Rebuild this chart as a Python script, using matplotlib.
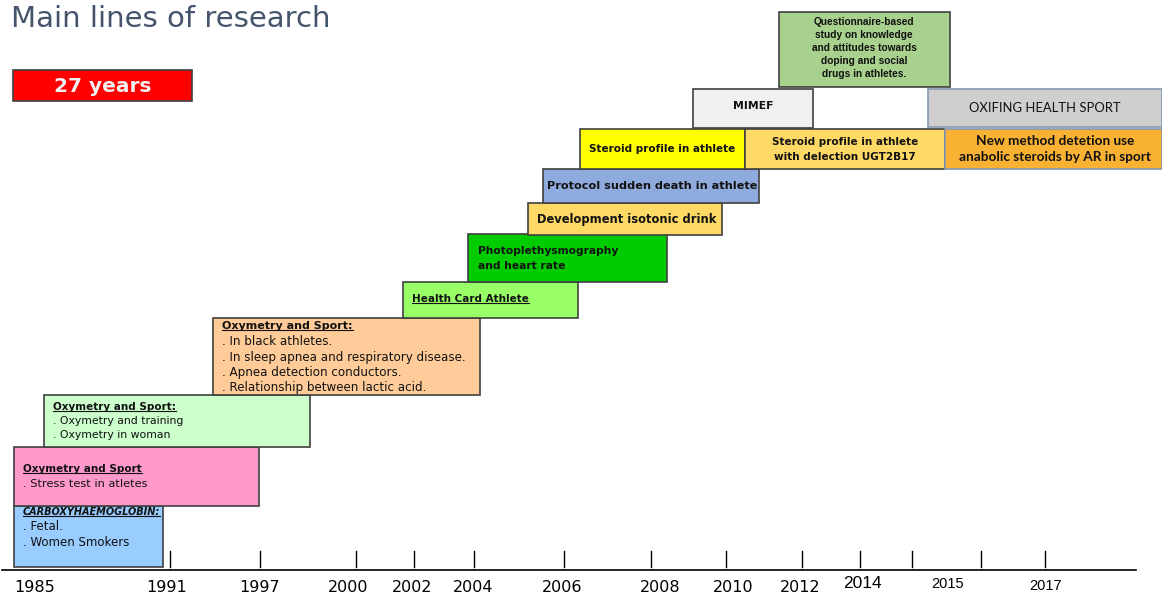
import matplotlib.pyplot as plt
from matplotlib.patches import Rectangle

title = 'Main lines of research'
span_label = '27 years'

# timeline labels and ticks
years = ['1985', '1991', '1997', '2000', '2002', '2004', '2006',
         '2008', '2010', '2012', '2014', '2015', '2017']

# research lines: (header, bullet lines)
research = [
    ('CARBOXYHAĘMOGLOBIN:', ['. Fetal.', '. Women Smokers']),
    ('Oxymetry and Sport', ['. Stress test in atletes']),
    ('Oxymetry and Sport:', ['. Oxymetry and training', '. Oxymetry in woman']),
    ('Oxymetry and Sport:', ['. In black athletes.',
                             '. In sleep apnea and respiratory disease.',
                             '. Apnea detection conductors.',
                             '. Relationship between lactic acid.']),
    ('Health Card Athlete', []),
    ('Photoplethysmography', ['and heart rate']),
    ('Development isotonic drink', []),
    ('Protocol sudden death in athlete', []),
    ('Steroid profile in athlete', []),
    ('Steroid profile in athlete', ['with delection UGT2B17']),
    ('New method detetion use', ['anabolic steroids by AR in sport']),
    ('MIMEF', []),
    ('Questionnaire-based', ['study on knowledge', 'and attitudes towards',
                             'doping and social', 'drugs in athletes.']),
    ('OXIFING HEALTH SPORT', []),
]

# ---- layout (pixel space of the slide) ----
W, H = 1162, 599
year_x = [35, 167, 260, 348, 412, 473, 562, 660, 733, 800, 862, 948, 1046]
year_y = [588] * 10 + [584, 584, 586]
tick_x = [170, 260, 356, 414, 474, 564, 651, 726, 802, 860, 912, 981, 1045]

# x0, x1, y0, y1, face, edge
boxes = [
    (14, 163, 506, 567, '#99CCFF', '#404040'),
    (14, 259, 447, 506, '#FF99CC', '#404040'),
    (44, 310, 395, 447, '#CCFFCC', '#404040'),
    (213, 480, 318, 395, '#FFCC99', '#404040'),
    (403, 578, 282, 318, '#99FF66', '#404040'),
    (468, 667, 234, 282, '#00CC00', '#404040'),
    (528, 722, 203, 235, '#FFD966', '#404040'),
    (543, 759, 169, 203, '#8FAADC', '#404040'),
    (580, 745, 129, 169, '#FFFF00', '#404040'),
    (745, 945, 129, 169, '#FFD966', '#404040'),
    (945, 1162, 129, 169, '#F8B133', '#8497B0'),
    (693, 813, 89, 128, '#F0F0F0', '#404040'),
    (779, 950, 12, 87, '#A9D18E', '#404040'),
    (928, 1162, 89, 127, '#D0CECE', '#8497B0'),
]
# text x, first line y, line step, align, header size, body size, header style, body style, family
text_fmt = [
    (23, 512, 15, 'left', 7.0, 8.5, 'bi_u', 'n', 'DejaVu Sans'),
    (23, 469, 15, 'left', 7.5, 8.2, 'b_u', 'n', 'DejaVu Sans'),
    (53, 407, 14, 'left', 7.5, 7.8, 'b_u', 'n', 'DejaVu Sans'),
    (222, 326, 15.5, 'left', 8.0, 8.6, 'b_u', 'n', 'DejaVu Sans'),
    (412, 299, 15, 'left', 7.5, 7.5, 'b_u', 'b', 'DejaVu Sans'),
    (478, 251, 15, 'left', 7.7, 7.7, 'b', 'b', 'DejaVu Sans'),
    (537, 220, 15, 'left', 8.3, 8.3, 'b', 'b', 'DejaVu Sans'),
    (547, 186, 15, 'left', 8.1, 8.1, 'b', 'b', 'DejaVu Sans'),
    (662, 149, 15, 'center', 7.5, 7.5, 'b', 'b', 'DejaVu Sans'),
    (845, 142, 14.5, 'center', 7.5, 7.5, 'b', 'b', 'DejaVu Sans'),
    (1055, 141, 16, 'center', 9.8, 9.8, 'b', 'b', 'Lato'),
    (753, 106, 15, 'center', 7.8, 7.8, 'b', 'b', 'DejaVu Sans'),
    (864, 22, 13, 'center', 7.3, 7.3, 'b', 'b', 'Liberation Sans'),
    (1045, 108, 15, 'center', 9.4, 9.4, 'n', 'n', 'Lato'),
]

fig = plt.figure(figsize=(W / 100, H / 100), dpi=100)
ax = fig.add_axes([0, 0, 1, 1])
ax.set_xlim(0, W)
ax.set_ylim(H, 0)
ax.axis('off')

ax.text(11, 19, title, fontsize=21, color='#44546A', va='center', ha='left')
ax.add_patch(Rectangle((13, 70), 179, 31, facecolor='#FF0000', edgecolor='#404040', lw=1.2))
ax.text(102.5, 86, span_label, fontsize=14.5, fontweight='bold', color='#F2F2F2',
        ha='center', va='center')

# timeline axis
ax.plot([2, 1136], [570, 570], color='black', lw=1.2)
for tx in tick_x:
    ax.plot([tx, tx], [551, 567], color='black', lw=1)
for i, (lab, lx, ly) in enumerate(zip(years, year_x, year_y)):
    fam = 'Liberation Sans' if i >= 10 else 'DejaVu Sans'
    fs = {10: 12.5, 11: 10.5, 12: 10.5}.get(i, 11.5)
    ax.text(lx, ly, lab, fontsize=fs, family=fam, ha='center', va='center')

underlined = []
for (head, body), (x0, x1, y0, y1, fc, ec), fmt in zip(research, boxes, text_fmt):
    ax.add_patch(Rectangle((x0, y0), x1 - x0, y1 - y0, facecolor=fc, edgecolor=ec, lw=1.2))
    tx, ty, step, ha, hfs, bfs, hstyle, bstyle, fam = fmt
    for j, line in enumerate([head] + body):
        st = hstyle if j == 0 else bstyle
        t = ax.text(tx, ty + j * step, line, fontsize=hfs if j == 0 else bfs,
                    family=fam, ha=ha, va='center',
                    fontweight='bold' if 'b' in st else 'normal',
                    fontstyle='italic' if 'i' in st else 'normal', color='#111111')
        if '_u' in st:
            underlined.append(t)

fig.canvas.draw()
inv = ax.transData.inverted()
for t in underlined:
    bb = t.get_window_extent()
    (ax0, ay0), (ax1, ay1) = inv.transform([(bb.x0, bb.y0), (bb.x1, bb.y1)])
    ax.plot([ax0, ax1], [ay0 - 1, ay0 - 1], color='#111111', lw=0.8)

fig.savefig('out.png', dpi=100)
